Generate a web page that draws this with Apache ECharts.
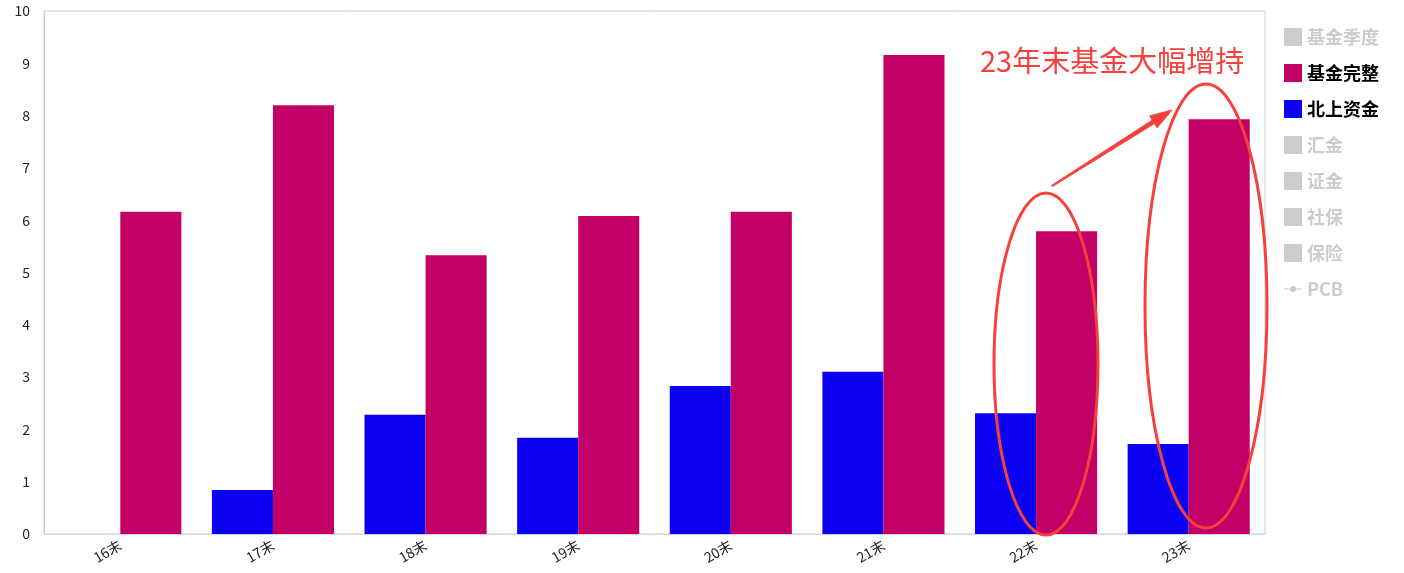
<!DOCTYPE html>
<html><head><meta charset="utf-8">
<script src="https://cdn.jsdelivr.net/npm/echarts@6/dist/echarts.min.js"></script>
<style>html,body{margin:0;padding:0;background:#fff}#c{width:1404px;height:573px}</style>
</head><body><div id="c"></div>
<script>
const categories = ['16末','17末','18末','19末','20末','21末','22末','23末'];
const fundFull = [6.16, 8.20, 5.33, 6.08, 6.16, 9.16, 5.79, 7.93];
const northbound = [0, 0.84, 2.28, 1.84, 2.83, 3.10, 2.31, 1.72];
const yTicks = [0,1,2,3,4,5,6,7,8,9,10];
const legendNames = ['基金季度','基金完整','北上资金','汇金','证金','社保','保险','PCB'];

const chart = echarts.init(document.getElementById('c'));
const font = 'Noto Sans CJK SC';
const red = '#f4413b';
const emptyBar = n => ({name:n, type:'bar', data:[]});
const lineIcon = 'path://M0,8.5 L18,8.5 L18,9.5 L0,9.5 Z M9,6 A3,3 0 1,1 9,12 A3,3 0 1,1 9,6 Z';
chart.setOption({
  animation:false,
  textStyle:{fontFamily:font},
  grid:{left:44,right:139,top:11,bottom:39,show:true,borderColor:'#ccc',borderWidth:1},
  legend:{
    orient:'vertical', left:1279, top:23, itemWidth:18, itemHeight:18, itemGap:18,
    data:legendNames.map(n => ({name:n, icon: n === 'PCB' ? lineIcon : 'rect'})),
    inactiveColor:'#ccc',
    textStyle:{fontSize:18, fontWeight:'bold', color:'#000', fontFamily:font},
    selected:{'基金季度':false,'基金完整':true,'北上资金':true,'汇金':false,'证金':false,'社保':false,'保险':false,'PCB':false}
  },
  xAxis:{type:'category', data:categories,
    axisLine:{lineStyle:{color:'#ccd6eb'}}, axisTick:{show:false},
    axisLabel:{rotate:30, fontSize:14, color:'#222', margin:10}},
  yAxis:{type:'value', min:yTicks[0], max:yTicks[yTicks.length-1], interval:1,
    splitLine:{show:false}, axisLine:{show:true,lineStyle:{color:'#ccc'}},
    axisLabel:{fontSize:14, color:'#222', margin:14}},
  series:[
    emptyBar('基金季度'),
    {name:'北上资金', type:'bar', data:northbound, itemStyle:{color:'#0b00f3'}, barGap:'0%', barCategoryGap:'20%'},
    {name:'基金完整', type:'bar', data:fundFull, itemStyle:{color:'#c30066'}, barGap:'0%', barCategoryGap:'20%'},
    emptyBar('汇金'), emptyBar('证金'), emptyBar('社保'), emptyBar('保险'),
    {name:'PCB', type:'line', data:[], symbol:'emptyCircle'}
  ],
  graphic:[
    {type:'ellipse', shape:{cx:1046, cy:364, rx:52, ry:171}, style:{fill:'none', stroke:red, lineWidth:3}, z:100},
    {type:'ellipse', shape:{cx:1206, cy:306, rx:61, ry:222}, style:{fill:'none', stroke:red, lineWidth:3}, z:100},
    {type:'polygon', shape:{points:[[1052.4,186.6],[1154.5,123.5],[1157.1,127.7],[1172,110],[1149.7,115.9],[1152.3,120.1],[1051.6,185.4]]},
      style:{fill:red, stroke:red, lineWidth:1}, z:100},
    {type:'text', left:980, top:46, style:{text:'23年末基金大幅增持', fill:red, font:'29px "Noto Sans CJK SC"'}, z:100}
  ]
});
</script></body></html>
